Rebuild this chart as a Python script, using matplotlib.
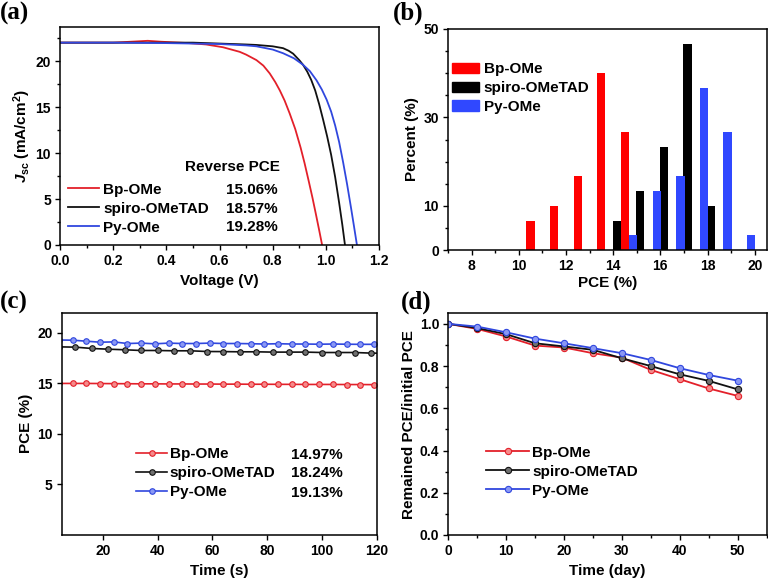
import matplotlib
matplotlib.use("Agg")
from matplotlib import pyplot as plt
from matplotlib.lines import Line2D
from matplotlib.patches import Patch
from matplotlib.ticker import MultipleLocator, FixedLocator

plt.rcParams["font.family"] = ["Liberation Sans", "DejaVu Sans"]
plt.rcParams["font.weight"] = "bold"
plt.rcParams["axes.labelweight"] = "bold"
plt.rcParams["mathtext.fontset"] = "custom"
plt.rcParams["mathtext.rm"] = "Liberation Sans:bold"
plt.rcParams["mathtext.it"] = "Liberation Sans:italic:bold"
plt.rcParams["mathtext.bf"] = "Liberation Sans:bold"

names = ["Bp-OMe", "spiro-OMeTAD", "Py-OMe"]
line_colors = ["#e3202a", "#111111", "#3047de"]
face_colors = ["#f58a8a", "#707070", "#8a98f4"]
bar_colors = ["#ff0000", "#000000", "#3048ff"]

# (a) J-V curves
red_v = [0.0, 0.1, 0.2, 0.28, 0.33, 0.38, 0.45, 0.49, 0.55, 0.613, 0.676, 0.70, 0.739,
         0.765, 0.789, 0.81, 0.827, 0.845, 0.864, 0.885, 0.905, 0.92, 0.936, 0.95,
         0.963, 0.975, 0.986]
red_j = [22.0, 22.0, 22.0, 22.12, 22.2, 22.1, 22.0, 21.94, 21.8, 21.5, 21.0, 20.7, 20.1,
         19.5, 18.65, 17.7, 16.8, 15.7, 14.3, 12.6, 10.6, 8.9, 6.9, 5.1,
         3.3, 1.6, 0.0]
black_v = [0.0, 0.2, 0.4, 0.5, 0.6, 0.7, 0.739, 0.8, 0.839, 0.86, 0.877, 0.90, 0.914,
           0.93, 0.945, 0.96, 0.975, 0.99, 1.005, 1.02, 1.035, 1.05, 1.062, 1.072]
black_j = [22.0, 22.0, 22.0, 22.0, 21.9, 21.8, 21.75, 21.6, 21.4, 21.12, 20.8, 20.1, 19.6,
           18.85, 17.95, 16.8, 15.3, 13.6, 11.8, 9.8, 7.4, 4.6, 2.2, 0.0]
blue_v = [0.0, 0.2, 0.4, 0.5, 0.6, 0.7, 0.739, 0.8, 0.839, 0.88, 0.914, 0.94, 0.965,
          0.985, 1.003, 1.02, 1.035, 1.05, 1.065, 1.08, 1.095, 1.105, 1.117]
blue_j = [22.0, 22.0, 21.95, 21.9, 21.85, 21.7, 21.6, 21.25, 20.85, 20.3, 19.6, 18.9, 17.9,
          16.9, 15.8, 14.5, 13.0, 11.2, 9.0, 6.6, 4.0, 2.2, 0.0]
reverse_pce = ["15.06%", "18.57%", "19.28%"]

# (b) PCE histogram (bin centre, percent of devices)
red_bins = [10.5, 11.5, 12.5, 13.5, 14.5]
red_pct = [6.67, 10.0, 16.67, 40.0, 26.67]
black_bins = [14.5, 15.5, 16.5, 17.5, 18.5]
black_pct = [6.67, 13.33, 23.33, 46.67, 10.0]
blue_bins = [14.5, 15.5, 16.5, 17.5, 18.5, 19.5]
blue_pct = [3.33, 13.33, 16.67, 36.67, 26.67, 3.33]

# (c) steady-state PCE
red_t = [4, 9, 14, 19, 24, 29, 34, 39, 44, 49, 54, 59, 64, 69, 74, 79, 84, 89, 94, 99,
         104, 109, 114, 119, 124]
red_pce = [15.0, 15.0, 15.0, 14.99, 14.98, 14.97, 14.96, 14.96, 14.95, 14.95, 14.94,
           14.94, 14.93, 14.93, 14.92, 14.92, 14.91, 14.91, 14.9, 14.9, 14.9, 14.89,
           14.89, 14.88, 14.88]
black_t = [4, 10, 16, 22, 28, 34, 40, 46, 52, 58, 64, 70, 76, 82, 88, 94, 100, 106,
           112, 118, 124]
black_pce = [18.62, 18.59, 18.46, 18.39, 18.33, 18.26, 18.26, 18.23, 18.23, 18.16,
             18.15, 18.13, 18.13, 18.1, 18.1, 18.1, 18.06, 18.06, 18.06, 18.0, 17.98]
blue_t = red_t
blue_pce = [19.3, 19.28, 19.18, 19.08, 19.11, 18.95, 18.99, 18.92, 18.99, 18.95, 18.95,
            18.99, 18.95, 18.95, 18.93, 18.9, 18.93, 18.9, 18.9, 18.88, 18.9, 18.88,
            18.87, 18.87, 18.86]
steady_pce = ["14.97%", "18.24%", "19.13%"]

# (d) long-term stability
days = [0, 5, 10, 15, 20, 25, 30, 35, 40, 45, 50]
red_norm = [1.0, 0.976, 0.94, 0.897, 0.888, 0.861, 0.84, 0.782, 0.738, 0.694, 0.659]
black_norm = [1.0, 0.98, 0.951, 0.908, 0.893, 0.877, 0.837, 0.80, 0.761, 0.73, 0.69]
blue_norm = [1.0, 0.987, 0.96, 0.93, 0.908, 0.885, 0.861, 0.829, 0.79, 0.758, 0.731]

W, H = 768, 580
fig = plt.figure(figsize=(W / 100, H / 100), dpi=100)


def box(l, t, r, b):
    return [l / W, 1 - b / H, (r - l) / W, (b - t) / H]


ax_a = fig.add_axes(box(60, 27, 379, 245))
ax_b = fig.add_axes(box(448, 29, 766.5, 250))
ax_c = fig.add_axes(box(61.7, 312.7, 376.7, 535))
ax_d = fig.add_axes(box(448.3, 313.3, 766.5, 535))


def style(ax):
    for s in ax.spines.values():
        s.set_linewidth(1.1)
    ax.tick_params(which="both", direction="out", top=False, right=False,
                   width=1.0, labelsize=10, pad=3)
    ax.tick_params(which="major", length=3.5)
    ax.tick_params(which="minor", length=2)


for ax in (ax_a, ax_b, ax_c, ax_d):
    style(ax)

leg_kw = dict(loc="center left", frameon=False, labelspacing=0.32, borderpad=0,
              borderaxespad=0, fontsize=11)

# ---- (a)
for v, j, c in zip([red_v, black_v, blue_v], [red_j, black_j, blue_j], line_colors):
    ax_a.plot(v, j, color=c, lw=1.3)
ax_a.set_xlim(0, 1.2)
ax_a.set_ylim(0, 23.7)
ax_a.xaxis.set_major_locator(MultipleLocator(0.2))
ax_a.xaxis.set_minor_locator(MultipleLocator(0.1))
ax_a.yaxis.set_major_locator(MultipleLocator(5))
ax_a.yaxis.set_minor_locator(MultipleLocator(2.5))
ax_a.xaxis.set_major_formatter(lambda x, p: f"{x:.1f}")
ax_a.set_xlabel("Voltage (V)", fontsize=11, labelpad=4.5)
ax_a.set_ylabel(r"$J_{\rm sc}$ (mA/cm$^2$)", fontsize=11, labelpad=2)
hand = [Line2D([], [], color=c, lw=1.3) for c in line_colors]
ax_a.legend(hand, names, bbox_to_anchor=(0.026, 0.1665), handlelength=2.0,
            handletextpad=0.3, **leg_kw)
ax_a.text(0.542, 0.359, "Reverse PCE", transform=ax_a.transAxes, ha="center",
          va="center", fontsize=11)
for val, yf in zip(reverse_pce, [0.251, 0.1665, 0.084]):
    ax_a.text(0.683, yf, val, transform=ax_a.transAxes, ha="right", va="center",
              fontsize=11)

# ---- (b)
bw = 0.35
ax_b.bar([b - 0.35 for b in black_bins], black_pct, width=bw, color=bar_colors[1])
ax_b.bar(red_bins, red_pct, width=bw, color=bar_colors[0])
ax_b.bar([b + 0.35 for b in blue_bins], blue_pct, width=bw, color=bar_colors[2])
ax_b.set_xlim(7, 20.5)
ax_b.set_ylim(0, 50)
ax_b.xaxis.set_major_locator(MultipleLocator(2))
ax_b.xaxis.set_minor_locator(MultipleLocator(1))
ax_b.yaxis.set_major_locator(FixedLocator([0, 10, 30, 50]))
ax_b.yaxis.set_minor_locator(FixedLocator([5, 15, 20, 25, 35, 40, 45]))
ax_b.set_xlabel("PCE (%)", fontsize=11, labelpad=2)
ax_b.set_ylabel("Percent (%)", fontsize=11, labelpad=3)
ph = [Patch(color=c) for c in bar_colors]
ax_b.legend(ph, names, bbox_to_anchor=(0.012, 0.732), handlelength=1.75,
            handleheight=0.7, handletextpad=0.33, **leg_kw)

# ---- (c)
mk = dict(marker="o", ms=4.0, mew=0.8)
for t, p, c, f in zip([red_t, black_t, blue_t], [red_pce, black_pce, blue_pce],
                      line_colors, face_colors):
    ax_c.plot(t, p, color=c, lw=1.2, mfc=f, mec=c, **mk)
ax_c.set_xlim(5, 120)
ax_c.set_ylim(0, 22)
ax_c.xaxis.set_major_locator(MultipleLocator(20))
ax_c.yaxis.set_major_locator(FixedLocator([5, 10, 15, 20]))
ax_c.set_xlabel("Time (s)", fontsize=11, labelpad=4.5)
ax_c.set_ylabel("PCE (%)", fontsize=11, labelpad=3)
hc = [Line2D([], [], color=c, lw=1.2, mfc=f, mec=c, **mk)
      for c, f in zip(line_colors, face_colors)]
ax_c.legend(hc, names, bbox_to_anchor=(0.236, 0.2775), handlelength=2.05,
            handletextpad=0.15, numpoints=1, **leg_kw)
for val, yf in zip(steady_pce, [0.36, 0.2775, 0.19]):
    ax_c.text(0.893, yf, val, transform=ax_c.transAxes, ha="right", va="center",
              fontsize=11)

# ---- (d)
mk_d = dict(marker="o", ms=4.5, mew=0.8)
for n, c, f in zip([red_norm, black_norm, blue_norm], line_colors, face_colors):
    ax_d.plot(days, n, color=c, lw=1.3, mfc=f, mec=c, **mk_d)
ax_d.set_xlim(0, 55)
ax_d.set_ylim(0, 1.05)
ax_d.xaxis.set_major_locator(MultipleLocator(10))
ax_d.xaxis.set_minor_locator(MultipleLocator(5))
ax_d.yaxis.set_major_locator(MultipleLocator(0.2))
ax_d.yaxis.set_minor_locator(MultipleLocator(0.1))
ax_d.yaxis.set_major_formatter(lambda x, p: f"{x:.1f}")
ax_d.set_xlabel("Time (day)", fontsize=11, labelpad=4.5)
ax_d.set_ylabel("Remained PCE/initial PCE", fontsize=11, labelpad=3)
hd = [Line2D([], [], color=c, lw=1.3, mfc=f, mec=c, **mk_d)
      for c, f in zip(line_colors, face_colors)]
ax_d.legend(hd, names, bbox_to_anchor=(0.12, 0.2855), handlelength=2.8,
            handletextpad=0.2, numpoints=1, **leg_kw)

# panel letters
for lab, x, y in [("(a)", 0, 2), ("(b)", 393, 2), ("(c)", 0, 291), ("(d)", 401, 291)]:
    fig.text(x / W, 1 - y / H, lab, fontfamily="Liberation Serif", fontweight="bold",
             fontsize=18, va="top", ha="left")

fig.savefig("out.png", dpi=100)
